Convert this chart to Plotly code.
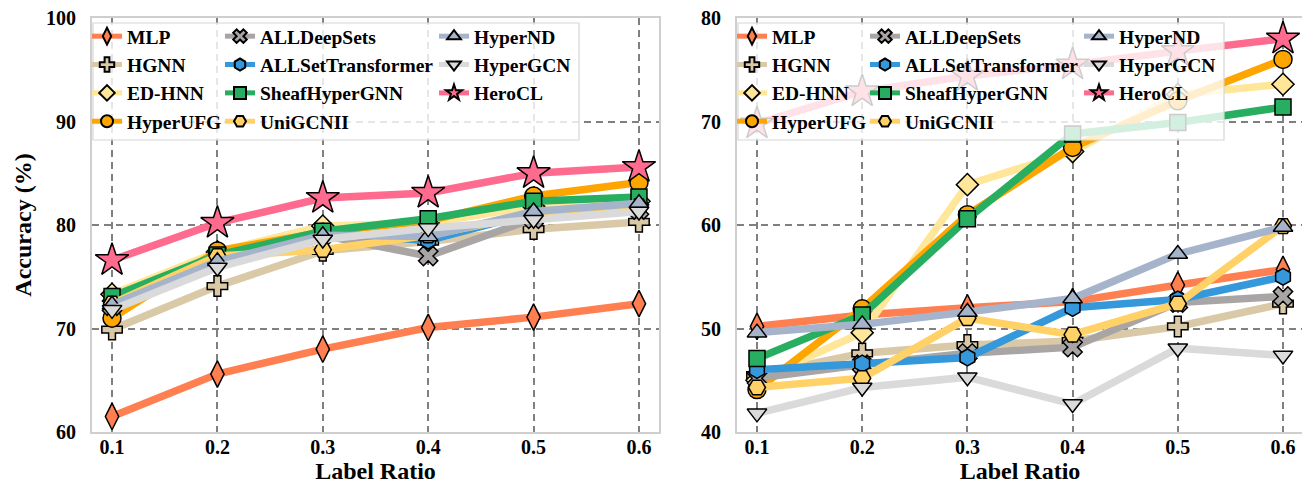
import plotly.graph_objects as go

# ---------------- data ----------------
label_ratio = [0.1, 0.2, 0.3, 0.4, 0.5, 0.6]
tick_text = ["0.1", "0.2", "0.3", "0.4", "0.5", "0.6"]

methods = ["MLP", "HGNN", "ED-HNN", "HyperUFG", "ALLDeepSets", "ALLSetTransformer",
           "SheafHyperGNN", "UniGCNII", "HyperND", "HyperGCN", "HeroCL"]

# left panel
mlp_a = [61.5, 65.6, 68.0, 70.1, 71.1, 72.4]
hgnn_a = [69.9, 74.1, 77.5, 78.4, 79.6, 80.3]
edhnn_a = [73.3, 77.4, 79.9, 80.2, 81.8, 82.3]
hyperufg_a = [71.0, 77.5, 79.3, 80.4, 82.8, 84.1]
alldeepsets_a = [72.2, 76.6, 79.0, 77.0, 80.6, 81.5]
allsettransformer_a = [72.6, 77.0, 79.2, 78.5, 81.2, 81.9]
sheafhypergnn_a = [73.1, 77.1, 79.4, 80.6, 82.3, 82.7]
unigcnii_a = [72.4, 77.0, 77.6, 79.0, 81.0, 81.8]
hypernd_a = [72.3, 76.5, 79.0, 78.9, 81.3, 82.1]
hypergcn_a = [71.8, 75.9, 78.6, 79.7, 80.5, 81.3]
herocl_a = [76.6, 80.2, 82.6, 83.1, 85.0, 85.6]

# right panel
mlp_b = [50.2, 51.3, 52.0, 52.6, 54.2, 55.7]
hgnn_b = [45.5, 47.6, 48.4, 48.8, 50.2, 52.4]
edhnn_b = [45.0, 49.6, 63.9, 67.1, 72.6, 73.6]
hyperufg_b = [44.1, 51.9, 61.0, 67.5, 72.0, 76.0]
alldeepsets_b = [45.2, 46.5, 47.6, 48.2, 52.5, 53.1]
allsettransformer_b = [46.0, 46.6, 47.2, 52.0, 52.8, 55.0]
sheafhypergnn_b = [47.1, 51.3, 60.6, 68.8, 69.9, 71.4]
unigcnii_b = [44.3, 45.2, 51.0, 49.4, 52.4, 59.9]
hypernd_b = [49.6, 50.4, 51.6, 52.9, 57.2, 59.8]
hypergcn_b = [41.8, 44.3, 45.3, 42.7, 48.1, 47.4]
herocl_b = [69.8, 72.9, 74.4, 75.5, 76.8, 78.0]

left_values = [mlp_a, hgnn_a, edhnn_a, hyperufg_a, alldeepsets_a, allsettransformer_a,
               sheafhypergnn_a, unigcnii_a, hypernd_a, hypergcn_a, herocl_a]
right_values = [mlp_b, hgnn_b, edhnn_b, hyperufg_b, alldeepsets_b, allsettransformer_b,
                sheafhypergnn_b, unigcnii_b, hypernd_b, hypergcn_b, herocl_b]

# ---------------- styles ----------------
colors = ["#FF7F50", "#D9C9A7", "#FFE699", "#FFA500", "#A9A5A5", "#3498DB",
          "#27AE60", "#FFD166", "#A6B4CB", "#DADADA", "#FF6B8E"]
symbols = ["diamond-tall", "cross", "diamond", "circle", "x", "hexagon",
           "square", "hexagon2", "triangle-up", "triangle-down", "star"]
sizes = [19, 17, 17, 18, 17, 17, 16, 17, 17, 17, 25]
col_of = [0, 0, 0, 0, 1, 1, 1, 1, 2, 2, 2]

FONT = "Liberation Serif"
OFF = 8                      # page body margin of the browser
W, H = 1310 - OFF, 487 - OFF
MT, MB = 18 - OFF, 487 - 432
PH = H - MT - MB

fig = go.Figure()

panels = [("x", "y", left_values, ["legend", "legend2", "legend3"]),
          ("x2", "y2", right_values, ["legend4", "legend5", "legend6"])]

for xa, ya, vals, legs in panels:
    for i, name in enumerate(methods):
        fig.add_trace(go.Scatter(
            x=label_ratio, y=vals[i], name=name, mode="lines+markers",
            xaxis=xa, yaxis=ya, legend=legs[col_of[i]], cliponaxis=False,
            line=dict(color=colors[i], width=7.5),
            marker=dict(symbol=symbols[i], size=sizes[i], color=colors[i],
                        line=dict(color="black", width=1.5)),
        ))

# convert reference-page pixel positions to paper coordinates
def px_x(p):
    return (p - OFF) / W

def px_y(p):
    return (H - MB - (p - OFF)) / PH

axis_common = dict(
    showline=True, linecolor="#cfcfcf", linewidth=2, mirror=True,
    showgrid=True, gridcolor="#808080", gridwidth=1.6, griddash="7px,5px",
    zeroline=False, ticks="", automargin=False, ticklabeloverflow="allow",
    tickfont=dict(family=FONT, size=20, color="black", weight="bold"),
)

left_dom = [px_x(92), px_x(659)]
right_dom = [px_x(737), px_x(1303)]

title_font = dict(family=FONT, size=24, weight="bold", color="black")

fig.update_layout(
    width=W, height=H,
    margin=dict(l=0, r=0, t=MT, b=MB, autoexpand=False),
    plot_bgcolor="white", paper_bgcolor="white",
    font=dict(family=FONT, color="black"),
    xaxis=dict(domain=left_dom, range=[0.081, 0.619], tickvals=label_ratio, ticktext=tick_text,
               title=dict(text="Label Ratio", font=title_font, standoff=0),
               anchor="y", ticklabelstandoff=-4, **axis_common),
    yaxis=dict(domain=[0, 1], range=[60, 100], dtick=10, anchor="x", ticklabelstandoff=10,
               title=dict(text="Accuracy (%)", font=title_font, standoff=8),
               **axis_common),
    xaxis2=dict(domain=right_dom, range=[0.081, 0.619], tickvals=label_ratio, ticktext=tick_text,
                title=dict(text="Label Ratio", font=title_font, standoff=0),
                anchor="y2", ticklabelstandoff=-4, **axis_common),
    yaxis2=dict(domain=[0, 1], range=[40, 80], dtick=10, anchor="x2", ticklabelstandoff=10,
                **axis_common),
)

leg_font = dict(family=FONT, size=19.5, color="black", weight="bold")
leg_common = dict(xanchor="left", yanchor="top", bgcolor="rgba(0,0,0,0)", borderwidth=0,
                  font=leg_font, itemwidth=30, tracegroupgap=0, orientation="v",
                  itemsizing="constant", itemclick=False, itemdoubleclick=False)
col_offsets = [0, 133, 347]
ytop = px_y(17)
for base, names in [(87, ["legend", "legend2", "legend3"]), (732, ["legend4", "legend5", "legend6"])]:
    for off, ln in zip(col_offsets, names):
        fig.update_layout(**{ln: dict(x=px_x(base + off), y=ytop, **leg_common)})

# translucent legend frames
for x0, x1 in [(92, 579), (737, 1224)]:
    fig.add_shape(type="rect", xref="paper", yref="paper",
                  x0=px_x(x0 + 1), x1=px_x(x1), y0=px_y(140), y1=px_y(23),
                  fillcolor="rgba(255,255,255,0.8)", line=dict(color="#d6d6d6", width=1.2),
                  layer="above")

fig.write_html("out.html")
